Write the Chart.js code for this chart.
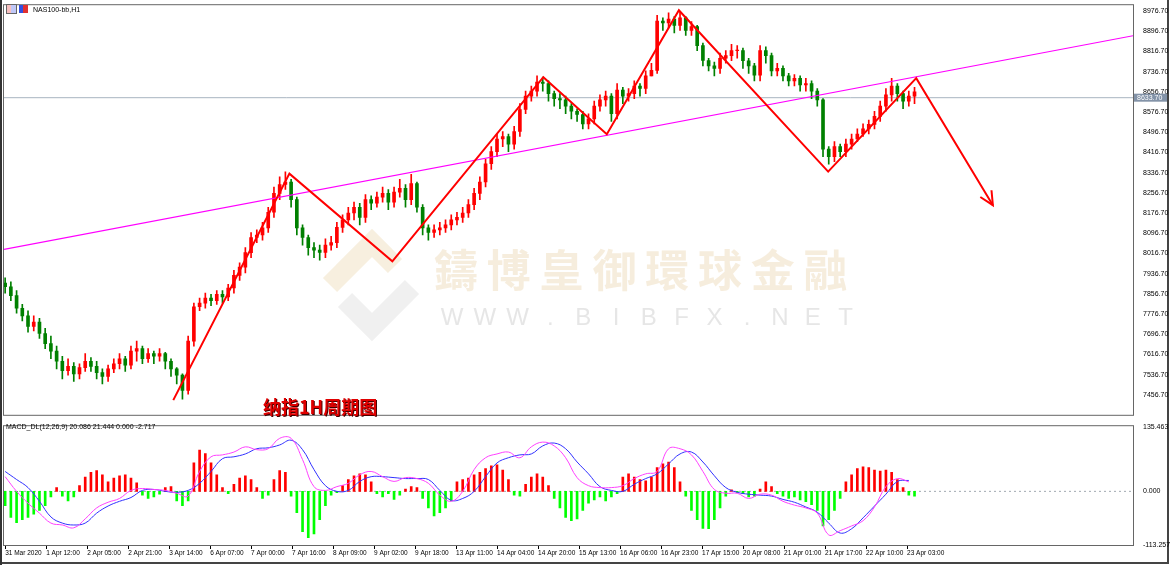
<!DOCTYPE html>
<html><head><meta charset="utf-8">
<script src="https://cdn.jsdelivr.net/npm/chart.js@4.4.0/dist/chart.umd.min.js"></script>
<style>
html,body{margin:0;padding:0;background:#fff;width:1170px;height:565px;overflow:hidden;font-family:"Liberation Sans",Arial,sans-serif}
#wrap{position:absolute;left:0;top:0;width:1167px;height:562px;border-right:2px solid #444;border-bottom:2px solid #444}
#strip{position:absolute;left:0;top:0;width:2px;height:565px;background:#333}
#c1{position:absolute;left:0;top:0}
#c2{position:absolute;left:0;top:421px}
#hdr{position:absolute;left:6px;top:4px;font-size:7px;color:#000;display:flex;align-items:center;gap:2px}
.ic{display:inline-block;width:9px;height:8px;border:1px solid #666;background:linear-gradient(90deg,#f8c0c0 50%,#c0c8f8 50%)}
.ic2{display:inline-block;width:9px;height:8px;background:linear-gradient(90deg,#3050e0 50%,#e03030 50%)}
#title{position:absolute;left:263px;top:393px;font:bold 18px "Noto Sans CJK SC";color:#e00000;text-shadow:1px 1px 0 #400}
#macdlbl{position:absolute;left:6px;top:423px;font-size:7px;color:#000}
</style></head><body>
<div id="wrap"></div><div id="strip"></div>
<canvas id="c1" width="1170" height="421"></canvas>
<canvas id="c2" width="1170" height="144"></canvas>
<div id="hdr"><span class="ic"></span><span class="ic2"></span><span style="margin-left:3px">NAS100-bb,H1</span></div>
<div id="title">纳指1H周期图</div>
<div id="macdlbl">MACD_DL(12,26,9) 20.086 21.444 0.000 -2.717</div>
<script>
const closes=[7885,7850,7800,7770,7728,7745,7700,7660,7630,7590,
7553,7570,7540,7565,7590,7570,7545,7530,7560,7580,
7600,7575,7630,7640,7600,7620,7610,7620,7590,7560,
7535,7475,7670,7806,7820,7840,7830,7855,7845,7880,
7930,7963,8020,8080,8090,8118,8180,8255,8290,8300,
8230,8118,8080,8040,8030,8021,8050,8060,8120,8150,
8177,8200,8160,8230,8216,8240,8255,8220,8260,8275,
8230,8294,8200,8118,8100,8110,8118,8130,8150,8160,
8177,8210,8255,8300,8372,8420,8470,8480,8450,8500,
8587,8640,8660,8696,8690,8650,8630,8625,8600,8580,
8567,8530,8550,8600,8625,8640,8570,8664,8640,8650,
8680,8670,8720,8742,8937,8930,8945,8920,8950,8900,
8915,8840,8781,8760,8750,8790,8800,8820,8820,8780,
8760,8723,8820,8800,8740,8750,8720,8700,8710,8684,
8690,8660,8625,8430,8400,8440,8420,8450,8470,8490,
8510,8528,8560,8600,8645,8680,8650,8620,8640,8657];
const firstOpen=7900;
const highs=[7920,7905,7870,7815,7790,7770,7760,7720,7690,7650,
7610,7600,7585,7580,7620,7605,7590,7560,7575,7600,
7620,7610,7650,7670,7650,7640,7630,7640,7625,7600,
7565,7540,7690,7820,7840,7860,7855,7870,7870,7895,
7950,7980,8040,8100,8110,8140,8200,8280,8320,8340,
8310,8240,8130,8090,8060,8050,8075,8085,8140,8170,
8200,8220,8215,8250,8245,8260,8280,8270,8280,8310,
8290,8330,8300,8210,8130,8130,8140,8150,8170,8180,
8200,8230,8275,8320,8390,8440,8490,8500,8490,8520,
8610,8660,8680,8720,8715,8700,8660,8650,8640,8610,
8590,8580,8570,8620,8645,8660,8650,8690,8675,8670,
8700,8690,8740,8770,8960,8950,8970,8955,8975,8955,
8935,8920,8850,8790,8775,8810,8820,8845,8840,8830,
8790,8770,8840,8835,8810,8770,8760,8730,8725,8720,
8710,8700,8670,8630,8440,8460,8450,8470,8490,8510,
8530,8545,8580,8620,8670,8710,8690,8660,8660,8675];
const lows=[7860,7830,7780,7750,7705,7710,7680,7640,7600,7560,
7520,7535,7510,7520,7550,7550,7520,7500,7510,7545,
7560,7550,7560,7590,7580,7585,7580,7590,7560,7530,
7500,7440,7460,7650,7790,7800,7810,7815,7820,7830,
7860,7910,7940,8000,8060,8070,8100,8160,8230,8270,
8200,8090,8050,8010,8000,7990,8000,8030,8040,8100,
8130,8150,8130,8140,8190,8200,8220,8190,8200,8240,
8200,8210,8180,8090,8070,8080,8090,8100,8110,8130,
8140,8160,8190,8230,8280,8350,8400,8440,8420,8430,
8480,8570,8620,8640,8660,8620,8600,8590,8570,8550,
8540,8510,8510,8530,8580,8600,8540,8550,8610,8620,
8630,8640,8650,8720,8730,8900,8910,8890,8900,8880,
8880,8820,8760,8740,8720,8730,8770,8780,8790,8750,
8730,8700,8700,8770,8720,8720,8700,8680,8680,8660,
8660,8630,8600,8400,8370,8380,8400,8400,8430,8460,
8480,8490,8510,8540,8580,8620,8620,8590,8600,8610];
const hist=[-30,-55,-66,-60,-55,-48,-40,-30,-12,8,
-10,-20,-12,12,30,40,44,35,20,28,
33,35,28,18,-8,-15,-12,-6,8,10,
-20,-30,-20,60,87,80,60,35,8,-5,
15,28,33,25,8,-15,-8,25,44,40,
-10,-45,-85,-98,-90,-60,-30,-8,-3,12,
25,33,37,35,20,-5,-12,-5,-17,-8,
5,10,8,-15,-35,-52,-45,-35,-20,20,
25,28,35,40,48,54,56,45,25,-8,
-10,15,30,37,30,12,-15,-35,-55,-62,
-58,-40,-25,-18,-12,-20,-12,-5,30,37,
30,25,22,30,50,58,62,50,20,-10,
-40,-60,-78,-79,-60,-35,-10,3,-3,-5,
-12,-10,5,20,10,-5,-10,-15,-12,-18,
-22,-28,-40,-73,-60,-40,-15,20,35,48,
52,50,45,43,45,40,25,8,-8,-10];
const macdLine=[31,0,-25,-46,-67,-71,-77,-58,-35,-23,
-15,2,6,4,2,-4,-10,42,73,77,
83,94,88,90,112,112,67,10,2,10,
17,35,42,31,21,29,27,17,-8,-21,
0,46,71,79,83,71,94,104,96,71,
29,12,8,8,12,27,37,42,90,90,
77,42,4,-4,-4,-15,-6,-8,-21,-29,
-35,-46,-92,-83,-73,-62,-33,10,27,20];
const signalLine=[42,25,8,-21,-54,-67,-71,-67,-46,-31,
-21,-13,2,4,0,-2,2,17,42,69,
73,79,90,92,98,108,88,46,12,0,
2,21,31,31,29,27,27,25,2,-19,
-15,0,31,60,71,77,79,96,102,90,
62,37,10,2,0,15,27,37,58,79,
83,62,33,8,-2,-6,-8,-10,-17,-23,
-33,-44,-67,-88,-79,-56,-31,-6,21,23];
const zigzag=[[29.4,7436],[49.7,8333],[67.7,7986],[94.1,8715],[105.2,8489],[117.8,8980],[143.9,8341],[159.3,8711],[172.7,8208]];
const trendLine=[[-0.2,8033],[197.2,8879]];
const lastPrice=8633.70;
const priceTicks=[7456.7,7536.7,7616.7,7696.7,7776.7,7856.7,7936.7,8016.7,8096.7,8176.7,8256.7,8336.7,8416.7,8496.7,8576.7,8656.7,8736.7,8816.7,8896.7,8976.7];
const macdTicks=[-113.257,0,135.463];
const timeLabels=['31 Mar 2020','1 Apr 12:00','2 Apr 05:00','2 Apr 21:00','3 Apr 14:00','6 Apr 07:00','7 Apr 00:00','7 Apr 16:00','8 Apr 09:00','9 Apr 02:00','9 Apr 18:00','13 Apr 11:00','14 Apr 04:00','14 Apr 20:00','15 Apr 13:00','16 Apr 06:00','16 Apr 23:00','17 Apr 15:00','20 Apr 08:00','21 Apr 01:00','21 Apr 17:00','22 Apr 10:00','23 Apr 03:00'];
const labelStep=7.168;

const opens=closes.map((c,i)=>i===0?firstOpen:closes[i-1]);
const col=i=>closes[i]>=opens[i]?'#ff0000':'#008000';
const XMIN=-0.2,XMAX=197.2;
const FONT={family:'"Liberation Sans",Arial',size:7};

const framePlugin={id:'frame',afterDraw(ch){const a=ch.chartArea,c=ch.ctx;c.save();c.strokeStyle='#666';c.lineWidth=1;c.strokeRect(a.left-0.5,a.top-1.5,a.right-a.left+1,a.bottom-a.top+2);c.restore();}};

const markPlugin={id:'marks',beforeDatasetsDraw(ch){
 const c=ch.ctx;c.save();
 c.lineWidth=20;c.strokeStyle='rgba(238,220,185,0.45)';
 c.beginPath();c.moveTo(330,285);c.lineTo(372,243);c.lineTo(395,266);c.stroke();
 c.strokeStyle='rgba(225,225,225,0.5)';
 c.beginPath();c.moveTo(345,300);c.lineTo(372,327);c.lineTo(412,287);c.stroke();
 c.font='bold 44px "Noto Sans CJK TC"';c.fillStyle='rgba(236,214,180,0.45)';c.textAlign='center';c.textBaseline='middle';
 const wm='鑄博皇御環球金融';for(let k=0;k<wm.length;k++)c.fillText(wm[k],456+52.8*k,270);
 c.font='24px "Liberation Sans"';c.fillStyle='rgba(205,205,205,0.5)';
 const ws='WWW.BIBFX.NET';for(let k=0;k<ws.length;k++)c.fillText(ws[k],452+32.8*k,318);
 c.restore();
},afterDraw(ch){
 const c=ch.ctx,xs=ch.scales.x,ys=ch.scales.y;c.save();
 const p1=zigzag[zigzag.length-2],p2=zigzag[zigzag.length-1];
 const x1=xs.getPixelForValue(p1[0]),y1=ys.getPixelForValue(p1[1]),x2=xs.getPixelForValue(p2[0]),y2=ys.getPixelForValue(p2[1]);
 const ang=Math.atan2(y2-y1,x2-x1);c.strokeStyle='#ff0000';c.lineWidth=2;c.beginPath();
 c.moveTo(x2-15*Math.cos(ang-0.45),y2-15*Math.sin(ang-0.45));c.lineTo(x2,y2);c.lineTo(x2-15*Math.cos(ang+0.45),y2-15*Math.sin(ang+0.45));c.stroke();
 const yp=ys.getPixelForValue(lastPrice);c.fillStyle='#8393a8';c.fillRect(ch.chartArea.right+1,yp-4,33,8);
 c.fillStyle='#fff';c.font='7px "Liberation Sans"';c.textBaseline='middle';c.fillText(lastPrice.toFixed(2),ch.chartArea.right+4,yp);
 c.restore();
}};

new Chart(document.getElementById('c1'),{
 data:{datasets:[
  {type:'line',data:[{x:XMIN,y:lastPrice},{x:XMAX,y:lastPrice}],borderColor:'#a8b4c0',borderWidth:1,pointRadius:0,order:5},
  {type:'bar',data:closes.map((c,i)=>({x:i,y:[lows[i],highs[i]]})),backgroundColor:closes.map((c,i)=>col(i)),barThickness:1,grouped:false,order:4},
  {type:'bar',data:closes.map((c,i)=>({x:i,y:[opens[i],c===opens[i]?c+2:c]})),backgroundColor:closes.map((c,i)=>col(i)),barThickness:3,grouped:false,order:3},
  {type:'line',data:trendLine.map(p=>({x:p[0],y:p[1]})),borderColor:'#ff00ff',borderWidth:1.2,pointRadius:0,order:2},
  {type:'line',data:zigzag.map(p=>({x:p[0],y:p[1]})),borderColor:'#ff0000',borderWidth:2,pointRadius:0,order:1}
 ]},
 options:{responsive:false,animation:false,events:[],
  layout:{padding:{left:4,top:5,bottom:1,right:0}},
  plugins:{legend:{display:false},tooltip:{enabled:false}},
  scales:{x:{type:'linear',min:XMIN,max:XMAX,display:false,offset:false},
   y:{position:'right',min:7378,max:8996,grid:{display:false,drawTicks:true},border:{display:true,color:'#000'},
    afterBuildTicks(s){s.ticks=priceTicks.map(v=>({value:v}));},
    afterFit(s){s.width=37;},
    ticks:{font:FONT,color:'#000',padding:2,callback:v=>v.toFixed(2),autoSkip:false}}}},
 plugins:[markPlugin,framePlugin]});

new Chart(document.getElementById('c2'),{
 data:{datasets:[
  {type:'line',data:[{x:XMIN,y:0},{x:XMAX,y:0}],borderColor:'#a0a8b0',borderWidth:1,borderDash:[2,3],pointRadius:0,order:4},
  {type:'bar',data:hist.map((v,i)=>({x:i,y:v})),backgroundColor:hist.map(v=>v>=0?'#ff0000':'#00ff00'),barThickness:2,grouped:false,order:3},
  {type:'line',data:signalLine.map((v,j)=>({x:2*j,y:v})),borderColor:'#3030ff',borderWidth:1,pointRadius:0,tension:0.4,order:2},
  {type:'line',data:macdLine.map((v,j)=>({x:2*j,y:v})),borderColor:'#ff40ff',borderWidth:1,pointRadius:0,tension:0.4,order:1}
 ]},
 options:{responsive:false,animation:false,events:[],
  layout:{padding:{left:4,top:4,bottom:0,right:0}},
  plugins:{legend:{display:false},tooltip:{enabled:false}},
  scales:{
   x:{type:'linear',min:XMIN,max:XMAX,offset:false,grid:{display:true,offset:false,drawOnChartArea:false,tickLength:4,color:'#000'},border:{display:false},
    afterBuildTicks(s){s.ticks=timeLabels.map((t,k)=>({value:k*labelStep}));},
    afterFit(s){s.height=20;},
    ticks:{font:{family:'"Liberation Sans",Arial',size:6.5},color:'#000',align:'start',padding:0,maxRotation:0,autoSkip:false,callback:(v,idx)=>timeLabels[idx]}},
   y:{position:'right',min:-113.257,max:135.463,grid:{display:false},border:{display:true,color:'#000'},
    afterBuildTicks(s){s.ticks=macdTicks.map(v=>({value:v}));},
    afterFit(s){s.width=37;},
    ticks:{font:FONT,color:'#000',padding:2,callback:v=>v.toFixed(3),autoSkip:false}}}},
 plugins:[framePlugin]});
</script></body></html>
